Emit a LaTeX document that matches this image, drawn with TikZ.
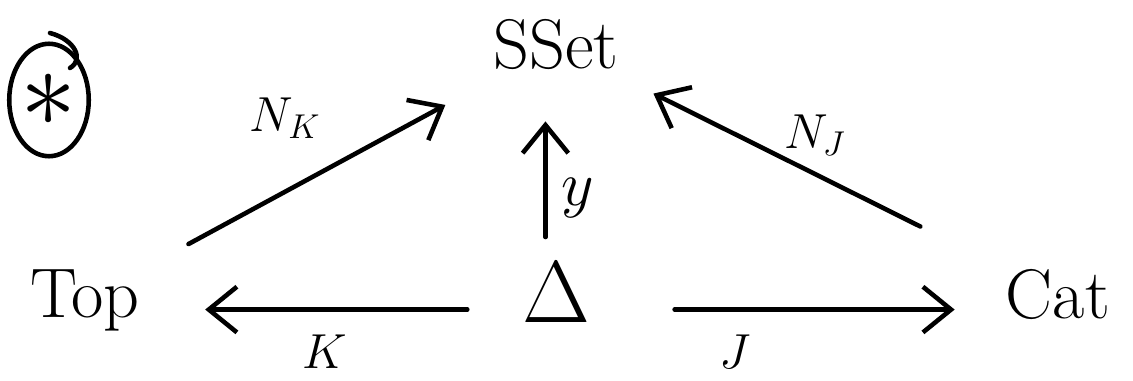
\RequirePackage{fix-cm}
\documentclass[tikz,border=0pt]{standalone}
\usetikzlibrary{arrows.meta,shapes.geometric}

\begin{document}
\begin{tikzpicture}[x=0.02cm, y=-0.02cm,
  obj/.style={font=\fontsize{40}{44}\selectfont, inner sep=2pt},
  lbl/.style={font=\fontsize{28}{32}\selectfont},
  arr/.style={line width=2.6pt, line cap=round,
    -{Straight Barb[length=16pt, width=26pt, line width=2.6pt]}}]

\useasboundingbox (0,0) rectangle (1133,381);

% the three categories and the simplex category
\node[obj] (sset) at (556,45) {SSet};
\node[obj] (top) at (85,300) {Top};
\node[obj] (cat) at (1058,295) {Cat};
\node[obj, font=\fontsize{50}{54}\selectfont] (delta) at (556,292) {$\Delta$};

% circled tag
\node[draw, ellipse, line width=2.6pt, minimum width=1.55cm, minimum height=2.25cm,
  inner sep=0pt, font=\fontsize{64}{68}\selectfont] (tag) at (49,100) {$\ast$};
\draw[line width=2.6pt, line cap=round] (50,33) .. controls (76,40) and (84,60) .. (70,68);

% nerve functors
\draw[arr, shorten <=29pt, shorten >=37pt] (top) -- (sset);
\draw[arr, shorten <=52pt, shorten >=25pt] (cat) -- (sset);
\draw[arr, shorten <=12pt, shorten >=27pt] ([xshift=-6pt]delta.north) -- ([xshift=-6pt]sset.south);

% realisations
\draw[arr, shorten <=29pt, shorten >=35pt] ([yshift=-10pt]delta.west) -- ([yshift=-10pt]delta.west -| top.east);
\draw[arr, shorten <=46pt, shorten >=27pt] ([yshift=-10pt]delta.east) -- ([yshift=-10pt]delta.east -| cat.west);

% labels
\node[lbl] (nk) at (285,118) {$N_K$};
\node[lbl] (nj) at (815,135) {$N_J$};
\node[lbl, font=\fontsize{36}{40}\selectfont] (yl) at (578,198) {$y$};
\node[lbl] (kl) at (325,352) {$K$};
\node[lbl] (jl) at (735,352) {$J$};

\end{tikzpicture}
\end{document}
